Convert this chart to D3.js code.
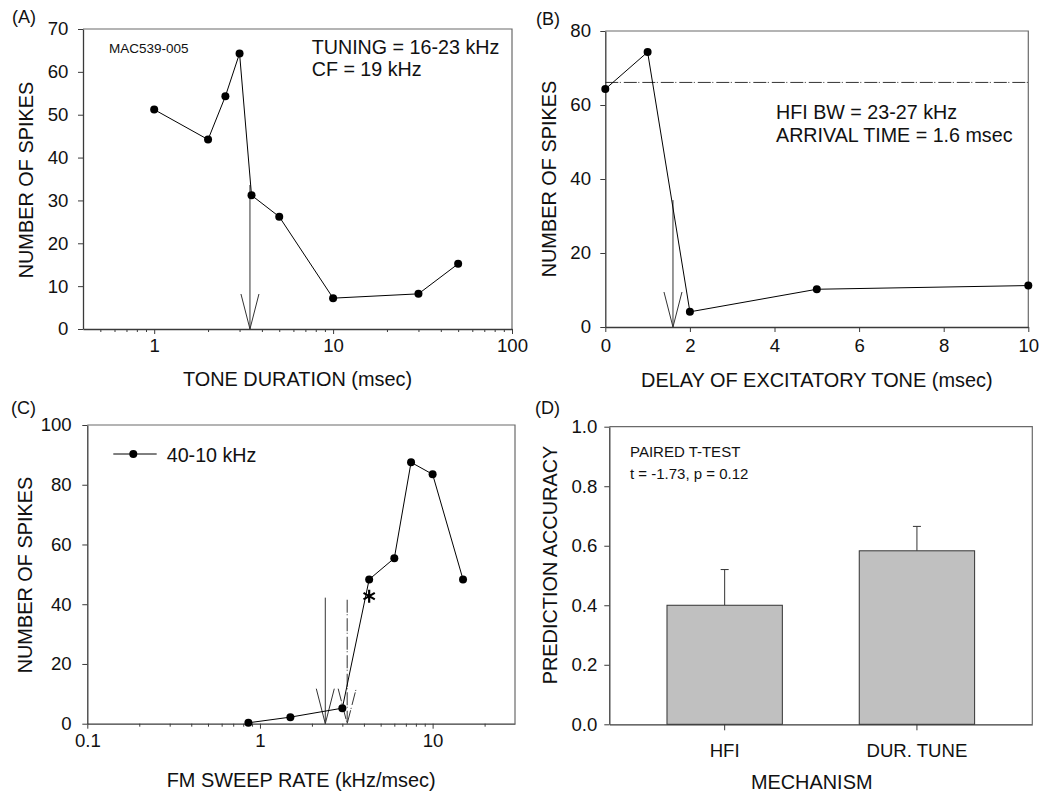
<!DOCTYPE html>
<html>
<head>
<meta charset="utf-8">
<script src="https://cdn.jsdelivr.net/npm/d3@7"></script>
<style>
  html, body { margin: 0; padding: 0; background: #fff; }
  svg { display: block; font-family: "Liberation Sans", Arial, sans-serif; }
</style>
</head>
<body>
<svg id="fig" width="1044" height="795"></svg>
<script>
// ---- Panel A: spike count vs tone duration ----
const durA = [1, 2, 2.5, 3, 3.5, 5, 10, 30, 50];
const spikesA = [51.2, 44.2, 54.3, 64.3, 31.2, 26.2, 7.2, 8.2, 15.2];
const arrowA = { x: 3.43, top: 33.6 };
const ticksAx = [1, 10, 100];
const ticksAy = [0, 10, 20, 30, 40, 50, 60, 70];

// ---- Panel B: spike count vs delay of excitatory tone ----
const delayB = [0, 1, 2, 5, 10];
const spikesB = [64.3, 74.3, 4.1, 10.2, 11.2];
const refLineB = 66.1;
const arrowB = { x: 1.6, top: 34.3 };
const ticksBx = [0, 2, 4, 6, 8, 10];
const ticksBy = [0, 20, 40, 60, 80];

// ---- Panel C: spike count vs FM sweep rate (40-10 kHz sweeps) ----
const rateC = [0.857, 1.5, 3, 4.29, 6, 7.5, 10, 15];
const spikesC = [0.3, 2.2, 5.2, 48.3, 55.4, 87.5, 83.5, 48.3];
const arrowC1 = { x: 2.39, top: 42.2 };   // solid arrow
const arrowC2 = { x: 3.2, top: 41.5 };    // dashed arrow
const starC = { x: 4.29, y: 42.7 };
const ticksCx = [0.1, 1, 10];
const ticksCy = [0, 20, 40, 60, 80, 100];

// ---- Panel D: prediction accuracy by mechanism ----
const mechD = ["HFI", "DUR. TUNE"];
const accD = [0.40, 0.583];
const errD = [0.12, 0.082];
const ticksDy = [0, 0.2, 0.4, 0.6, 0.8, 1.0];

const svg = d3.select("#fig");
const FONT = "Liberation Sans, Arial, sans-serif";
const AXIS = "#3a3a3a";
const FRAME = "#6a6a6a";
const TICK_FS = 18.6;
const TITLE_FS = 19.9;
const NOTE_FS = 19.7;
const DASHDOT = "13,1.5,1,3";

function logMinors(lo, hi) {
  const out = [];
  for (let e = Math.floor(Math.log10(lo)); e <= Math.ceil(Math.log10(hi)); e++) {
    for (let m = 2; m <= 9; m++) {
      const v = m * Math.pow(10, e);
      if (v > lo * 1.0001 && v < hi * 0.9999) out.push(v);
    }
  }
  return out;
}

function styleAxis(g, fs) {
  g.attr("font-size", fs).attr("font-family", FONT);
  g.selectAll("path.domain").attr("stroke", AXIS).attr("stroke-width", 1.3);
  g.selectAll(".tick line").attr("stroke", AXIS).attr("stroke-width", 1);
  g.selectAll(".tick text").attr("fill", "#111");
}

function frame(x0, x1, y0, y1) {
  svg.append("path")
    .attr("d", `M${x0},${y0}H${x1}V${y1}`)
    .attr("fill", "none").attr("stroke", FRAME).attr("stroke-width", 1.2);
}

function text(x, y, s, fs, anchor, rot) {
  const t = svg.append("text")
    .attr("font-size", fs).attr("font-family", FONT).attr("fill", "#111")
    .attr("text-anchor", anchor || "start")
    .text(s);
  if (rot) t.attr("transform", `translate(${x},${y}) rotate(-90)`);
  else t.attr("x", x).attr("y", y);
  return t;
}

function arrow(xs, ys, a, dash) {
  const px = xs(a.x), y0 = ys(0), yt = ys(a.top);
  const g = svg.append("g").attr("fill", "none").attr("stroke", "#333").attr("stroke-width", 1);
  if (dash) g.attr("stroke-dasharray", dash);
  g.append("line").attr("x1", px).attr("x2", px).attr("y1", yt).attr("y2", y0);
  g.append("path").attr("d", `M${px - 9},${y0 - 35}L${px},${y0}L${px + 9},${y0 - 35}`);
}

function series(xs, ys, X, Y) {
  const pts = X.map((d, i) => [d, Y[i]]);
  svg.append("path")
    .attr("d", d3.line().x(d => xs(d[0])).y(d => ys(d[1]))(pts))
    .attr("fill", "none").attr("stroke", "#000").attr("stroke-width", 1);
  svg.append("g").selectAll("circle").data(pts).join("circle")
    .attr("cx", d => xs(d[0])).attr("cy", d => ys(d[1])).attr("r", 4).attr("fill", "#000");
}

// ================= Panel A =================
{
  const L = 83, R = 512, T = 29, B = 329;
  const x = d3.scaleLog().domain([0.4, 100]).range([L, R]);
  const y = d3.scaleLinear().domain([0, 70]).range([B, T]);
  frame(L, R, T, B);
  svg.append("g").attr("transform", `translate(0,${B})`)
    .call(d3.axisBottom(x).tickValues(logMinors(0.4, 100)).tickSize(3).tickFormat("").tickSizeOuter(0))
    .call(g => { g.select(".domain").remove(); styleAxis(g, TICK_FS); });
  svg.append("g").attr("transform", `translate(0,${B})`)
    .call(d3.axisBottom(x).tickValues(ticksAx).tickFormat(d3.format("d")).tickSize(5).tickPadding(4.6).tickSizeOuter(0))
    .call(g => styleAxis(g, TICK_FS));
  svg.append("g").attr("transform", `translate(${L},0)`)
    .call(d3.axisLeft(y).tickValues(ticksAy).tickSize(5).tickPadding(9.7).tickSizeOuter(0))
    .call(g => styleAxis(g, TICK_FS));
  arrow(x, y, arrowA);
  series(x, y, durA, spikesA);
  text(12, 23, "(A)", 18);
  text(109, 52.5, "MAC539-005", 13.5);
  text(311.7, 54, "TUNING = 16-23 kHz", NOTE_FS);
  text(311.7, 76, "CF = 19 kHz", NOTE_FS);
  text((L + R) / 2, 386, "TONE DURATION (msec)", TITLE_FS, "middle");
  text(33, 180, "NUMBER OF SPIKES", TITLE_FS, "middle", true);
}

// ================= Panel B =================
{
  const L = 605.3, R = 1028.3, T = 31, B = 327;
  const x = d3.scaleLinear().domain([0, 10]).range([L, R]);
  const y = d3.scaleLinear().domain([0, 80]).range([B, T]);
  frame(L, R, T, B);
  svg.append("g").attr("transform", `translate(0,${B})`)
    .call(d3.axisBottom(x).tickValues(ticksBx).tickSize(5).tickPadding(6.6).tickSizeOuter(0))
    .call(g => styleAxis(g, TICK_FS));
  svg.append("g").attr("transform", `translate(${L},0)`)
    .call(d3.axisLeft(y).tickValues(ticksBy).tickSize(5).tickPadding(9.3).tickSizeOuter(0))
    .call(g => styleAxis(g, TICK_FS));
  svg.append("line")
    .attr("x1", x(0)).attr("x2", x(10)).attr("y1", y(refLineB)).attr("y2", y(refLineB))
    .attr("stroke", "#333").attr("stroke-width", 1).attr("stroke-dasharray", DASHDOT);
  arrow(x, y, arrowB);
  series(x, y, delayB, spikesB);
  text(536, 25, "(B)", 18);
  text(776, 119, "HFI BW = 23-27 kHz", NOTE_FS);
  text(776, 141.7, "ARRIVAL TIME = 1.6 msec", NOTE_FS);
  text((L + R) / 2, 387, "DELAY OF EXCITATORY TONE (msec)", TITLE_FS, "middle");
  text(556, 179, "NUMBER OF SPIKES", TITLE_FS, "middle", true);
}

// ================= Panel C =================
{
  const L = 87.3, R = 515, T = 425, B = 723.7;
  const x = d3.scaleLog().domain([0.1, 30]).range([L, R]);
  const y = d3.scaleLinear().domain([0, 100]).range([B, T]);
  frame(L, R, T, B);
  svg.append("g").attr("transform", `translate(0,${B})`)
    .call(d3.axisBottom(x).tickValues(logMinors(0.1, 30)).tickSize(3).tickFormat("").tickSizeOuter(0))
    .call(g => { g.select(".domain").remove(); styleAxis(g, TICK_FS); });
  svg.append("g").attr("transform", `translate(0,${B})`)
    .call(d3.axisBottom(x).tickValues(ticksCx).tickFormat(d => d < 1 ? d3.format(".1f")(d) : d3.format("d")(d))
      .tickSize(5).tickPadding(4.9).tickSizeOuter(0))
    .call(g => styleAxis(g, TICK_FS));
  svg.append("g").attr("transform", `translate(${L},0)`)
    .call(d3.axisLeft(y).tickValues(ticksCy).tickSize(5).tickPadding(10.6).tickSizeOuter(0))
    .call(g => styleAxis(g, TICK_FS));
  arrow(x, y, arrowC1);
  arrow(x, y, arrowC2, DASHDOT);
  series(x, y, rateC, spikesC);
  // significance marker
  const sx = x(starC.x), sy = y(starC.y), r = 6.5;
  svg.append("path")
    .attr("d", [0, 60, 120].map(a => {
      const t = a * Math.PI / 180;
      return `M${sx - r * Math.sin(t)},${sy - r * Math.cos(t)}L${sx + r * Math.sin(t)},${sy + r * Math.cos(t)}`;
    }).join(""))
    .attr("stroke", "#000").attr("stroke-width", 2.2).attr("fill", "none");
  // legend
  svg.append("line").attr("x1", 113.3).attr("x2", 156.7).attr("y1", 454).attr("y2", 454)
    .attr("stroke", "#000").attr("stroke-width", 1);
  svg.append("circle").attr("cx", 133.3).attr("cy", 454).attr("r", 4).attr("fill", "#000");
  text(166.7, 461.7, "40-10 kHz", NOTE_FS);
  text(11, 414, "(C)", 18);
  text((L + R) / 2, 787, "FM SWEEP RATE (kHz/msec)", TITLE_FS, "middle");
  text(32.3, 575, "NUMBER OF SPIKES", TITLE_FS, "middle", true);
}

// ================= Panel D =================
{
  const L = 609.3, R = 1032.3, T = 426.7, B = 724.3;
  const x = d3.scaleBand().domain(mechD).range([L, R]).paddingInner(0.4).paddingOuter(0.3);
  const y = d3.scaleLinear().domain([0, 1]).range([B, T]);
  frame(L, R, T, B);
  const bars = mechD.map((m, i) => ({ m, v: accD[i], e: errD[i] }));
  // error bars (upper only)
  svg.append("g").selectAll("path").data(bars).join("path")
    .attr("d", d => {
      const cx = x(d.m) + x.bandwidth() / 2;
      return `M${cx},${y(d.v)}V${y(d.v + d.e)}M${cx - 4},${y(d.v + d.e)}H${cx + 4}`;
    })
    .attr("stroke", "#333").attr("stroke-width", 1).attr("fill", "none");
  svg.append("g").selectAll("rect").data(bars).join("rect")
    .attr("x", d => x(d.m)).attr("width", x.bandwidth())
    .attr("y", d => y(d.v)).attr("height", d => y(0) - y(d.v))
    .attr("fill", "#c0c0c0").attr("stroke", "#333").attr("stroke-width", 1);
  svg.append("g").attr("transform", `translate(0,${B})`)
    .call(d3.axisBottom(x).tickSize(6).tickPadding(13.6).tickSizeOuter(0))
    .call(g => styleAxis(g, TICK_FS));
  svg.append("g").attr("transform", `translate(${L},0)`)
    .call(d3.axisLeft(y).tickValues(ticksDy).tickFormat(d3.format(".1f")).tickSize(5).tickPadding(7).tickSizeOuter(0))
    .call(g => styleAxis(g, TICK_FS));
  text(535, 414, "(D)", 18);
  text(630, 457.3, "PAIRED T-TEST", 15);
  text(630, 479, "t = -1.73, p = 0.12", 15);
  text(811.7, 789, "MECHANISM", TITLE_FS, "middle");
  text(556.7, 565, "PREDICTION ACCURACY", TITLE_FS, "middle", true);
}
</script>
</body>
</html>
